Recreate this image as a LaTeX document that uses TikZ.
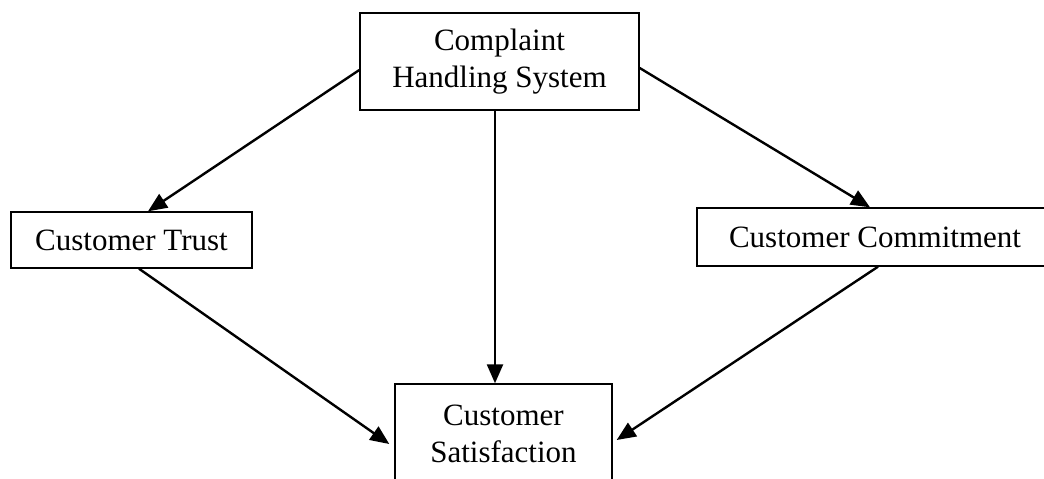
\documentclass[tikz,border=0pt]{standalone}
\usepackage{fontspec}
\setmainfont{Liberation Serif}
\usetikzlibrary{arrows.meta}
\begin{document}
\begin{tikzpicture}[x=1pt,y=-1pt,
  box/.style={draw=black, line width=1.4pt, inner sep=0pt, align=center,
    font=\fontsize{31}{37}\selectfont},
  link/.style={line width=2.4pt, -{Triangle[length=19pt,width=16pt]}}]
  \useasboundingbox (0,0) rectangle (1044,479);
  \node[box, minimum width=279pt, minimum height=97pt] (chs) at (499.5,61.5)
    {Complaint\\Handling System};
  \node[box, minimum width=241pt, minimum height=56pt] (trust) at (131.5,240)
    {Customer Trust};
  \node[box, minimum width=356pt, minimum height=58pt] (commit) at (875,237)
    {Customer Commitment};
  \node[box, minimum width=217pt, minimum height=100pt] (sat) at (503.5,434)
    {Customer\\Satisfaction};
  \draw[link] ([yshift=-8.5pt]chs.west) -- ([xshift=16.5pt]trust.north);
  \draw[link] ([yshift=-6.5pt]chs.east) -- ([xshift=-5pt]commit.north);
  \draw[link] ([xshift=-4.5pt]chs.south) -- ([xshift=-8.5pt]sat.north);
  \draw[link] ([xshift=7.5pt]trust.south) -- ([xshift=-5pt,yshift=-10pt]sat.west);
  \draw[link] ([xshift=3pt]commit.south) -- ([xshift=4pt,yshift=-6pt]sat.east);
\end{tikzpicture}
\end{document}
